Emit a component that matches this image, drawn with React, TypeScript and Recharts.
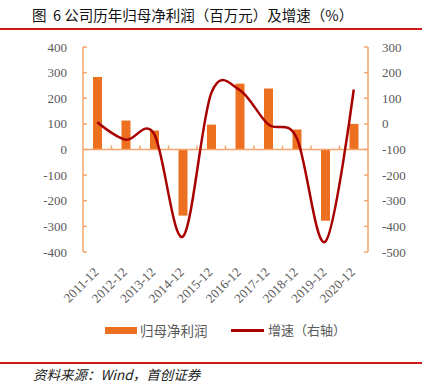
import React from 'react';
import { ComposedChart, Bar, Line, XAxis, YAxis, ReferenceLine } from 'recharts';

const categories = ['2011-12', '2012-12', '2013-12', '2014-12', '2015-12', '2016-12', '2017-12', '2018-12', '2019-12', '2020-12'];
const netProfit = [283, 113, 74, -258, 97, 257, 238, 78, -278, 100];
const growth = [6, -62, -40, -440, 120, 132, -2, -55, -460, 134];
const leftTicks = [-400, -300, -200, -100, 0, 100, 200, 300, 400];
const rightTicks = [-500, -400, -300, -200, -100, 0, 100, 200, 300];
const barName = '归母净利润';
const lineName = '增速（右轴）';
const title = '图\u00a0\u00a06 公司历年归母净利润（百万元）及增速（%）';
const source = '资料来源：Wind，首创证券';

const data = categories.map((c, i) => ({ cat: c, profit: netProfit[i], growth: growth[i] }));

const BAR = '#EC7020';
const AXIS = '#F5A46C';
const LINE = '#A80000';
const TXT = '#595959';
const RED = '#CC1A1A';

const PLOT_LEFT = 83;
const PLOT_RIGHT = 368;
const PLOT_TOP = 47;
const PLOT_BOTTOM = 252;
const BAND = (PLOT_RIGHT - PLOT_LEFT) / categories.length;
const ZERO_Y = (PLOT_TOP + PLOT_BOTTOM) / 2;

// Catmull-Rom style smoothing curve (like Excel smooth lines)
function catmull(context: any) {
  const k = 1 / 6;
  const st: any = { _context: context };
  const seg = (x: number, y: number) => {
    st._context.bezierCurveTo(
      st._x1 + k * (st._x2 - st._x0),
      st._y1 + k * (st._y2 - st._y0),
      st._x2 + k * (st._x1 - x),
      st._y2 + k * (st._y1 - y),
      st._x2,
      st._y2
    );
  };
  st.areaStart = () => { st._line = 0; };
  st.areaEnd = () => { st._line = NaN; };
  st.lineStart = () => {
    st._x0 = st._x1 = st._x2 = st._y0 = st._y1 = st._y2 = NaN;
    st._point = 0;
  };
  st.lineEnd = () => {
    switch (st._point) {
      case 2: st._context.lineTo(st._x2, st._y2); break;
      case 3: seg(st._x1, st._y1); break;
    }
    if (st._line || (st._line !== 0 && st._point === 1)) st._context.closePath();
    st._line = 1 - st._line;
  };
  st.point = (x: number, y: number) => {
    x = +x; y = +y;
    switch (st._point) {
      case 0: st._point = 1; st._line ? st._context.lineTo(x, y) : st._context.moveTo(x, y); break;
      case 1: st._point = 2; st._x1 = x; st._y1 = y; break;
      case 2: st._point = 3; seg(x, y); break;
      default: seg(x, y); break;
    }
    st._x0 = st._x1; st._x1 = st._x2; st._x2 = x;
    st._y0 = st._y1; st._y1 = st._y2; st._y2 = y;
  };
  return st;
}

const FONT_NUM = '"Liberation Serif", "DejaVu Serif", serif';
const FONT_CJK = '"Noto Sans CJK SC", "Noto Sans", sans-serif';

const LeftTick = (p: any) => {
  const ax = p.x + 16;
  return (
    <g>
      <text x={p.x} y={p.y} dy={4.5} textAnchor="end" fill={TXT} fontSize={13} fontFamily={FONT_NUM}>{p.payload.value}</text>
      <line x1={ax} x2={ax + 4} y1={p.y} y2={p.y} stroke={AXIS} strokeWidth={1.5} />
    </g>
  );
};

const RightTick = (p: any) => {
  const ax = p.x - 14;
  return (
    <g>
      <text x={p.x} y={p.y} dy={4.5} textAnchor="start" fill={TXT} fontSize={13} fontFamily={FONT_NUM}>{p.payload.value}</text>
      <line x1={ax - 4} x2={ax} y1={p.y} y2={p.y} stroke={AXIS} strokeWidth={1.5} />
    </g>
  );
};

const BottomTick = (p: any) => {
  const bx = p.x + BAND / 2;
  const last = p.index === categories.length - 1;
  return (
    <g>
      <text
        transform={`translate(${p.x + 2},${p.y + 21}) rotate(-45)`}
        textAnchor="end"
        fill={TXT}
        fontSize={13}
        fontFamily={FONT_NUM}
      >
        {p.payload.value}
      </text>
      {!last && <line x1={bx} x2={bx} y1={ZERO_Y} y2={ZERO_Y - 4} stroke={AXIS} strokeWidth={1.5} />}
    </g>
  );
};

export default function App() {
  return (
    <div style={{ position: 'absolute', left: 0, top: 0, width: 428, height: 384, background: '#fff', overflow: 'hidden' }}>
      <div style={{ position: 'absolute', left: 32, top: 0, height: 29, lineHeight: '29px', fontSize: 14.5, fontFamily: FONT_CJK, color: '#111', whiteSpace: 'nowrap' }}>
        {title}
      </div>
      <div style={{ position: 'absolute', left: 0, top: 28, width: 422, height: 2, background: RED }} />
      <div style={{ position: 'absolute', left: 0, top: 0 }}>
        <ComposedChart
          width={428}
          height={320}
          data={data}
          margin={{ top: PLOT_TOP, right: 428 - PLOT_RIGHT - 50, bottom: 320 - PLOT_BOTTOM - 40, left: PLOT_LEFT - 50 }}
        >
          <XAxis dataKey="cat" xAxisId="x" height={40} axisLine={false} tickLine={false} tickSize={0} tickMargin={0} interval={0} tick={BottomTick} />
          <YAxis
            yAxisId="left"
            orientation="left"
            width={50}
            domain={[-400, 400]}
            ticks={leftTicks}
            interval={0}
            axisLine={{ stroke: AXIS, strokeWidth: 1.5 }}
            tickLine={false}
            tickSize={0}
            tickMargin={16}
            tick={LeftTick}
          />
          <YAxis
            yAxisId="right"
            orientation="right"
            width={50}
            domain={[-500, 300]}
            ticks={rightTicks}
            interval={0}
            axisLine={{ stroke: AXIS, strokeWidth: 1.5 }}
            tickLine={false}
            tickSize={0}
            tickMargin={14}
            tick={RightTick}
          />
          <Bar xAxisId="x" yAxisId="left" dataKey="profit" name={barName} fill={BAR} barSize={9} isAnimationActive={false} />
          <ReferenceLine xAxisId="x" yAxisId="left" y={0} stroke={AXIS} strokeWidth={1.5} />
          <Line
            xAxisId="x"
            yAxisId="right"
            dataKey="growth"
            name={lineName}
            type={catmull as any}
            stroke={LINE}
            strokeWidth={2.5}
            dot={false}
            activeDot={false}
            isAnimationActive={false}
          />
        </ComposedChart>
      </div>
      <div style={{ position: 'absolute', left: 105, top: 327, width: 32, height: 7, background: BAR }} />
      <div style={{ position: 'absolute', left: 140, top: 320, height: 20, lineHeight: '20px', fontSize: 13.5, fontFamily: FONT_CJK, color: TXT, whiteSpace: 'nowrap' }}>{barName}</div>
      <div style={{ position: 'absolute', left: 231, top: 329, width: 33, height: 3, background: LINE }} />
      <div style={{ position: 'absolute', left: 268, top: 320, height: 20, lineHeight: '20px', fontSize: 13, fontFamily: FONT_CJK, color: TXT, whiteSpace: 'nowrap' }}>{lineName}</div>
      <div style={{ position: 'absolute', left: 0, top: 361.5, width: 422, height: 2, background: RED }} />
      <div style={{ position: 'absolute', left: 33, top: 364, height: 20, lineHeight: '20px', fontSize: 13.5, fontStyle: 'italic', fontFamily: FONT_CJK, color: '#222', whiteSpace: 'nowrap' }}>{source}</div>
    </div>
  );
}
